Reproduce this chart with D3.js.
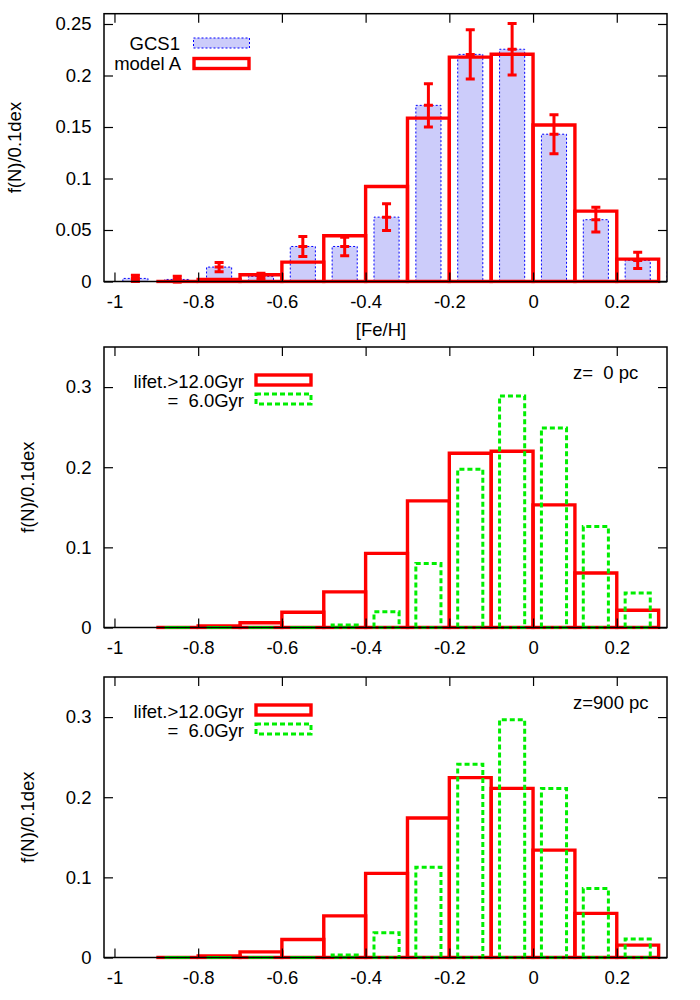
<!DOCTYPE html>
<html>
<head>
<meta charset="utf-8">
<script src="https://cdn.jsdelivr.net/npm/d3@7"></script>
<style>
  body { margin: 0; background: #fff; }
  svg { display: block; }
  text { font-family: "Liberation Sans", Arial, Helvetica, sans-serif; }
</style>
</head>
<body>
<svg id="chart" width="700" height="1000"></svg>
<script>
// ---------------- data ----------------
const binCenters = [-0.85, -0.75, -0.65, -0.55, -0.45, -0.35, -0.25, -0.15, -0.05, 0.05, 0.15, 0.25];

const gcsCenters = [-0.95, -0.85, -0.75, -0.65, -0.55, -0.45, -0.35, -0.25, -0.15, -0.05, 0.05, 0.15, 0.25, 0.35];
const gcsValues  = [0.003, 0.002, 0.014, 0.005, 0.034, 0.034, 0.0625, 0.171, 0.2205, 0.2255, 0.143, 0.060, 0.0205, 0.010];
const gcsErrors  = [0.003, 0.003, 0.0045, 0.003, 0.0097, 0.009, 0.013, 0.021, 0.024, 0.025, 0.019, 0.012, 0.0078, null];

const modelA       = [0.000, 0.002, 0.0065, 0.0188, 0.0444, 0.0922, 0.1586, 0.2178, 0.2207, 0.152, 0.0683, 0.0217];

const lifet12_z0   = [0.000, 0.002, 0.006, 0.019, 0.0445, 0.0925, 0.158, 0.2175, 0.220, 0.153, 0.068, 0.0216];
const lifet6_z0    = [0.000, 0.000, 0.000, 0.000, 0.003, 0.0195, 0.080, 0.1975, 0.289, 0.249, 0.126, 0.043];

const lifet12_z900 = [0.000, 0.002, 0.007, 0.0225, 0.052, 0.105, 0.174, 0.2245, 0.211, 0.134, 0.055, 0.0155];
const lifet6_z900  = [0.000, 0.000, 0.000, 0.000, 0.003, 0.0308, 0.1125, 0.241, 0.2967, 0.211, 0.086, 0.023];

const xTicks = [-1, -0.8, -0.6, -0.4, -0.2, 0, 0.2];
const xTickLabels = ["-1", "-0.8", "-0.6", "-0.4", "-0.2", "0", "0.2"];
const yTicksTop = [0, 0.05, 0.1, 0.15, 0.2, 0.25];
const yTickLabelsTop = ["0", "0.05", "0.1", "0.15", "0.2", "0.25"];
const yTicksLow = [0, 0.1, 0.2, 0.3];
const yTickLabelsLow = ["0", "0.1", "0.2", "0.3"];

const legendTop = ["GCS1", "model A"];
const legendLow = ["lifet.>12.0Gyr", "=  6.0Gyr"];
const zLabels = ["z=  0 pc", "z=900 pc"];

// ---------------- layout ----------------
const svg = d3.select("#chart");
const FS = 18.5;
const RED = "#ff0000", GREEN = "#00ee00", BLUE = "#0000ff", BLUEFILL = "#ccccfa";
const x = d3.scaleLinear().domain([-1.025, 0.32]).range([104, 667]);
const binW = 0.1, narrowW = 0.06;

const panels = [
  { top: 13.7, bottom: 281.5, ymax: 0.26, ticks: yTicksTop, labels: yTickLabelsTop, ylabX: 15 },
  { top: 347,  bottom: 627.5, ymax: 0.35, ticks: yTicksLow, labels: yTickLabelsLow, ylabX: 28 },
  { top: 677,  bottom: 957.5, ymax: 0.35, ticks: yTicksLow, labels: yTickLabelsLow, ylabX: 28 }
];

panels.forEach((p, i) => {
  p.y = d3.scaleLinear().domain([0, p.ymax]).range([p.bottom, p.top]);
  const g = svg.append("g");
  p.g = g;
  const cid = "clip" + i;
  svg.append("clipPath").attr("id", cid).append("rect")
    .attr("x", x.range()[0]).attr("y", p.top - 2)
    .attr("width", x.range()[1] - x.range()[0]).attr("height", p.bottom - p.top + 4);
  p.plot = g.append("g").attr("clip-path", `url(#${cid})`);
});

function styleAxis(sel) {
  sel.select(".domain").remove();
  sel.selectAll(".tick line").attr("stroke", "#000").attr("stroke-width", 1.2);
  sel.selectAll(".tick text").attr("font-size", FS).attr("fill", "#000")
     .attr("font-family", '"Liberation Sans", Arial, Helvetica, sans-serif');
}

function drawAxes(p) {
  const g = p.g;
  const fmtX = d => xTickLabels[xTicks.indexOf(d)];
  const fmtY = d => p.labels[p.ticks.indexOf(d)];
  g.append("g").attr("transform", `translate(0,${p.bottom})`)
    .call(d3.axisBottom(x).tickValues(xTicks).tickFormat(fmtX).tickSizeInner(-9).tickSizeOuter(0).tickPadding(13))
    .call(styleAxis);
  g.append("g").attr("transform", `translate(0,${p.top})`)
    .call(d3.axisTop(x).tickValues(xTicks).tickFormat("").tickSizeInner(-9).tickSizeOuter(0))
    .call(styleAxis);
  g.append("g").attr("transform", `translate(${x.range()[0]},0)`)
    .call(d3.axisLeft(p.y).tickValues(p.ticks).tickFormat(fmtY).tickSizeInner(-9).tickSizeOuter(0).tickPadding(12.5))
    .call(styleAxis);
  g.append("g").attr("transform", `translate(${x.range()[1]},0)`)
    .call(d3.axisRight(p.y).tickValues(p.ticks).tickFormat("").tickSizeInner(-9).tickSizeOuter(0))
    .call(styleAxis);
  g.append("rect")
    .attr("x", x.range()[0]).attr("y", p.top)
    .attr("width", x.range()[1] - x.range()[0]).attr("height", p.bottom - p.top)
    .attr("fill", "none").attr("stroke", "#000").attr("stroke-width", 1.5);
  g.append("text")
    .attr("transform", `translate(${p.ylabX},${(p.top + p.bottom) / 2}) rotate(-90)`)
    .attr("text-anchor", "middle").attr("dy", "0.3em")
    .attr("font-size", FS).text("f(N)/0.1dex");
}

// boxes drawn as closed paths so zero-height bins still show as a line on the baseline
function boxes(p, centers, values, width, opts) {
  p.plot.append("g").selectAll("path").data(centers).join("path")
    .attr("d", (d, i) => {
      const x0 = x(d - width / 2), x1 = x(d + width / 2);
      const yb = p.y(0), yt = p.y(values[i]);
      return `M${x0},${yb}V${yt}H${x1}V${yb}Z`;
    })
    .attr("fill", opts.fill || "none")
    .attr("stroke", opts.stroke)
    .attr("stroke-width", opts.sw)
    .attr("stroke-dasharray", opts.dash || null);
}

// ---------------- top panel ----------------
const P0 = panels[0];
boxes(P0, gcsCenters, gcsValues, narrowW, { fill: BLUEFILL, stroke: BLUE, sw: 1, dash: "2,2" });
boxes(P0, binCenters, modelA, binW, { stroke: RED, sw: 3.4 });

const eb = P0.plot.append("g").attr("stroke", RED).attr("stroke-width", 3);
gcsCenters.forEach((c, i) => {
  const e = gcsErrors[i];
  if (e == null) return;
  const cx = x(c), y0 = P0.y(gcsValues[i] - e), y1 = P0.y(gcsValues[i] + e), yc = P0.y(gcsValues[i]);
  eb.append("line").attr("x1", cx).attr("x2", cx).attr("y1", y0).attr("y2", y1);
  [y0, y1, yc].forEach(yy => eb.append("line").attr("x1", cx - 4.5).attr("x2", cx + 4.5).attr("y1", yy).attr("y2", yy));
  if (Math.abs(y0 - y1) < 9) {
    eb.append("rect").attr("x", cx - 4).attr("y", yc - 4).attr("width", 8).attr("height", 8).attr("fill", RED).attr("stroke", "none");
  }
});
drawAxes(P0);

svg.append("text").attr("x", 381).attr("y", 336).attr("text-anchor", "middle").attr("font-size", FS).text("[Fe/H]");

// top legend
const lg0 = svg.append("g").attr("font-size", FS);
lg0.append("text").attr("x", 180).attr("y", 43.5).attr("dy", "0.35em").attr("text-anchor", "end").text(legendTop[0]);
lg0.append("rect").attr("x", 193.5).attr("y", 38).attr("width", 56).attr("height", 10)
  .attr("fill", BLUEFILL).attr("stroke", BLUE).attr("stroke-width", 1).attr("stroke-dasharray", "2,2");
lg0.append("text").attr("x", 181).attr("y", 63.5).attr("dy", "0.35em").attr("text-anchor", "end").text(legendTop[1]);
lg0.append("rect").attr("x", 194).attr("y", 58.5).attr("width", 55).attr("height", 10)
  .attr("fill", "none").attr("stroke", RED).attr("stroke-width", 3.4);

// ---------------- lower panels ----------------
const lowData = [[lifet12_z0, lifet6_z0], [lifet12_z900, lifet6_z900]];
[1, 2].forEach((k, j) => {
  const p = panels[k];
  boxes(p, binCenters, lowData[j][0], binW, { stroke: RED, sw: 3.4 });
  boxes(p, binCenters, lowData[j][1], narrowW, { stroke: GREEN, sw: 3, dash: "5,3" });
  drawAxes(p);
  const off = p.top - 347;
  const lg = svg.append("g").attr("font-size", FS);
  lg.append("text").attr("x", 244).attr("y", 381.5 + off).attr("dy", "0.35em").attr("text-anchor", "end").text(legendLow[0]);
  lg.append("rect").attr("x", 256).attr("y", 375 + off).attr("width", 55).attr("height", 10)
    .attr("fill", "none").attr("stroke", RED).attr("stroke-width", 3.4);
  lg.append("text").attr("x", 244).attr("y", 400.5 + off).attr("dy", "0.35em").attr("text-anchor", "end")
    .attr("xml:space", "preserve").style("white-space", "pre").text(legendLow[1]);
  lg.append("rect").attr("x", 256).attr("y", 394 + off).attr("width", 55).attr("height", 10)
    .attr("fill", "none").attr("stroke", GREEN).attr("stroke-width", 3).attr("stroke-dasharray", "5,3");
  lg.append("text").attr("x", 573).attr("y", 372.3 + off).attr("dy", "0.35em")
    .style("white-space", "pre").text(zLabels[j]);
});
</script>
</body>
</html>
